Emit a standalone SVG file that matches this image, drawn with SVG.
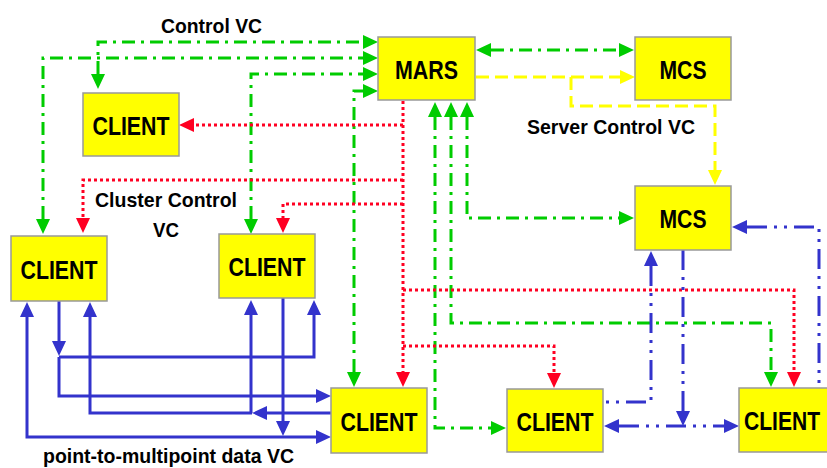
<svg xmlns="http://www.w3.org/2000/svg" width="827" height="468" viewBox="0 0 827 468">
<style>
.box{fill:#FFFF00;stroke:#999999;stroke-width:1.5}
.nt{font-family:"Liberation Sans",Arial,sans-serif;font-weight:bold;font-size:26px;fill:#000;text-anchor:middle}
.lb{font-family:"Liberation Sans",Arial,sans-serif;font-weight:bold;font-size:21px;fill:#000}
.c{fill:none;stroke-width:3}
.g{stroke:#00CC00;stroke-dasharray:13 6 3 6}
.r{stroke:#FF0022;stroke-dasharray:3 3}
.y{stroke:#FFFF00;stroke-dasharray:13 6}
.bs{stroke:#3333CC}
.bd{stroke:#3333CC;stroke-dasharray:20 7 3 7 3 7}
.g.e{marker-end:url(#aG)}.g.s{marker-start:url(#aG)}
.r.e{marker-end:url(#aR)}
.y.e{marker-end:url(#aY)}
.bs.e,.bd.e{marker-end:url(#aB)}.bs.s,.bd.s{marker-start:url(#aB)}
</style>
<defs>
<marker id="aG" markerUnits="userSpaceOnUse" markerWidth="16" markerHeight="15" refX="0" refY="7" orient="auto-start-reverse"><path d="M0,0 L15,7 L0,14 z" fill="#00CC00"/></marker>
<marker id="aR" markerUnits="userSpaceOnUse" markerWidth="16" markerHeight="15" refX="0" refY="7" orient="auto-start-reverse"><path d="M0,0 L15,7 L0,14 z" fill="#FF0022"/></marker>
<marker id="aY" markerUnits="userSpaceOnUse" markerWidth="16" markerHeight="15" refX="0" refY="7" orient="auto-start-reverse"><path d="M0,0 L15,7 L0,14 z" fill="#FFFF00"/></marker>
<marker id="aB" markerUnits="userSpaceOnUse" markerWidth="16" markerHeight="15" refX="0" refY="7" orient="auto-start-reverse"><path d="M0,0 L15,7 L0,14 z" fill="#3333CC"/></marker>
</defs>
<rect width="827" height="468" fill="#FFFFFF"/>
<g id="connectors">
<!-- green control VC -->
<path class="c g s e" d="M98,74 L98,42 L363,42"/>
<path class="c g s e" d="M43,219 L43,58 L363,58"/>
<path class="c g s e" d="M251,219 L251,74 L363,74"/>
<path class="c g s e" d="M354,372 L354,91 L363,91"/>
<path class="c g s e" d="M491,50 L619,50"/>
<path class="c g s e" d="M467,117 L467,218 L619,218"/>
<path class="c g s e" d="M451,117 L451,323 L771,323 L771,372"/>
<path class="c g s e" d="M435,117 L435,428 L491,428"/>
<!-- red cluster control VC -->
<path class="c r e" d="M403,101 L403,372"/>
<path class="c r e" d="M403,125 L194,125"/>
<path class="c r e" d="M403,180 L83,180 L83,218"/>
<path class="c r e" d="M403,204 L283,204 L283,218"/>
<path class="c r e" d="M403,290 L794,290 L794,372"/>
<path class="c r e" d="M403,346 L554,346 L554,373"/>
<!-- yellow server control VC -->
<path class="c y e" d="M476,77 L620,77"/>
<path class="c y e" d="M571,77 L571,106 L715,106 L715,170"/>
<!-- blue point-to-multipoint data VC -->
<path class="c bs e" d="M59,301 L59,341"/>
<path class="c bs e" d="M59,357 L314,357 L314,315"/>
<path class="c bs e" d="M59,357 L59,396 L316,396"/>
<path class="c bs s e" d="M27,317 L27,437 L316,437"/>
<path class="c bs e" d="M331,413 L267,413"/>
<path class="c bs e" d="M252,413 L90,413 L90,317"/>
<path class="c bs e" d="M251,413 L251,315"/>
<path class="c bs e" d="M283,298 L283,421"/>
<!-- blue dash-dot -->
<path class="c bd s" d="M651,266 L651,402 L603,402"/>
<path class="c bd e" d="M683,250 L683,411"/>
<path class="c bd s e" d="M619,426 L724,426"/>
<path class="c bd s" d="M747,227 L819,227 L819,388"/>
</g>
<g id="mars"><rect class="box" x="378" y="37" width="97" height="63"/><text class="nt" x="426.5" y="79" textLength="63" lengthAdjust="spacingAndGlyphs">MARS</text></g>
<g id="mcs1"><rect class="box" x="635" y="37" width="96" height="63"/><text class="nt" x="683" y="79" textLength="47" lengthAdjust="spacingAndGlyphs">MCS</text></g>
<g id="mcs2"><rect class="box" x="635" y="186" width="96" height="64"/><text class="nt" x="683" y="228" textLength="47" lengthAdjust="spacingAndGlyphs">MCS</text></g>
<g id="client1"><rect class="box" x="83" y="93" width="96" height="63"/><text class="nt" x="131" y="135" textLength="77" lengthAdjust="spacingAndGlyphs">CLIENT</text></g>
<g id="client2"><rect class="box" x="11" y="236" width="96" height="65"/><text class="nt" x="59" y="279" textLength="77" lengthAdjust="spacingAndGlyphs">CLIENT</text></g>
<g id="client3"><rect class="box" x="219" y="234" width="96" height="64"/><text class="nt" x="267" y="276" textLength="77" lengthAdjust="spacingAndGlyphs">CLIENT</text></g>
<g id="client4"><rect class="box" x="331" y="388" width="96" height="65"/><text class="nt" x="379" y="431" textLength="77" lengthAdjust="spacingAndGlyphs">CLIENT</text></g>
<g id="client5"><rect class="box" x="507" y="389" width="96" height="63"/><text class="nt" x="555" y="431" textLength="77" lengthAdjust="spacingAndGlyphs">CLIENT</text></g>
<g id="client6"><rect class="box" x="739" y="388" width="96" height="64"/><text class="nt" x="782" y="430" textLength="76" lengthAdjust="spacingAndGlyphs">CLIENT</text></g>
<g id="labels">
<text class="lb" x="161" y="33" textLength="101" lengthAdjust="spacingAndGlyphs">Control VC</text>
<text class="lb" x="527" y="134" textLength="168" lengthAdjust="spacingAndGlyphs">Server Control VC</text>
<text class="lb" x="95" y="207" textLength="142" lengthAdjust="spacingAndGlyphs">Cluster Control</text>
<text class="lb" x="153" y="237" textLength="26" lengthAdjust="spacingAndGlyphs">VC</text>
<text class="lb" x="43" y="463" textLength="251" lengthAdjust="spacingAndGlyphs">point-to-multipoint data VC</text>
</g>
</svg>
